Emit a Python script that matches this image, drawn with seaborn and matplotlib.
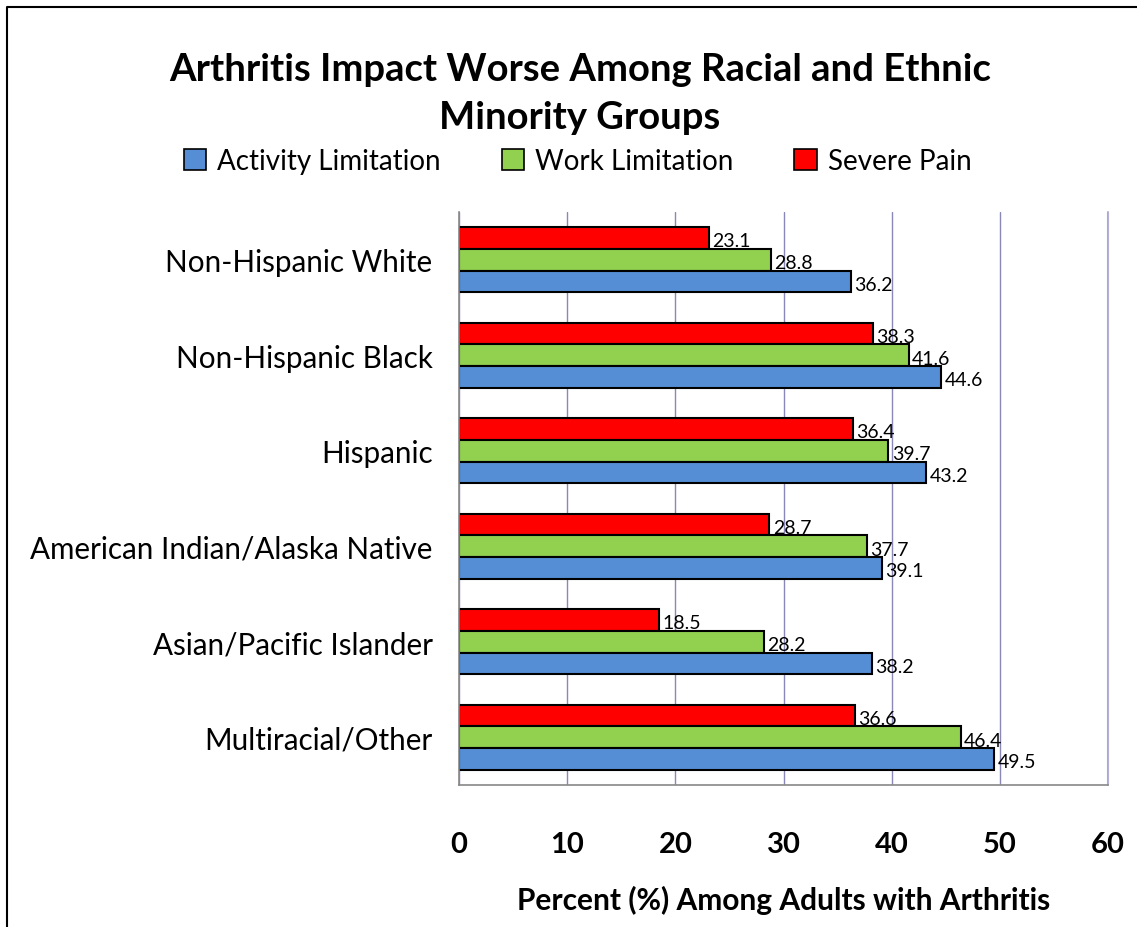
import pandas as pd
import seaborn as sns
import matplotlib.pyplot as plt
from matplotlib.patches import Patch
from matplotlib.lines import Line2D
import numpy as np

# Chart data
groups = ['Non-Hispanic White', 'Non-Hispanic Black', 'Hispanic',
          'American Indian/Alaska Native', 'Asian/Pacific Islander', 'Multiracial/Other']
activity = [36.2, 44.6, 43.2, 39.1, 38.2, 49.5]
work = [28.8, 41.6, 39.7, 37.7, 28.2, 46.4]
pain = [23.1, 38.3, 36.4, 28.7, 18.5, 36.6]
series = ['Activity Limitation', 'Work Limitation', 'Severe Pain']
colors = {'Activity Limitation': '#558ED5', 'Work Limitation': '#92D050', 'Severe Pain': '#FF0000'}

df = pd.DataFrame({
    'group': groups * 3,
    'series': [series[0]] * 6 + [series[1]] * 6 + [series[2]] * 6,
    'value': activity + work + pain,
})

sns.set_style('white', rc={'text.color': 'black', 'axes.labelcolor': 'black',
                           'xtick.color': 'black', 'ytick.color': 'black'})
plt.rcParams['font.family'] = ['Lato', 'DejaVu Sans']

fig = plt.figure(figsize=(11.37, 9.28), dpi=100)
ax = fig.add_axes([459 / 1137, 1 - 786 / 928, (1108 - 459) / 1137, (786 - 213) / 928])

draw_order = ['Severe Pain', 'Work Limitation', 'Activity Limitation']
sns.barplot(data=df, y='group', x='value', hue='series', hue_order=draw_order,
            order=groups, palette=colors, orient='h', width=0.68,
            edgecolor='black', linewidth=1.5, saturation=1, legend=False, ax=ax)

# value labels
for cont in ax.containers:
    for bar in cont:
        w = bar.get_width()
        ax.text(w + 0.3, bar.get_y() + bar.get_height() / 2 + 0.03, f'{w:.1f}',
                ha='left', va='center', fontsize=14, color='black')

ax.set_xlim(0, 60)
ax.set_ylim(len(groups) - 0.5, -0.5)
ax.set_xticks(np.arange(0, 61, 10))
ax.set_xticklabels([str(v) for v in range(0, 61, 10)], fontsize=21, fontweight='bold')
ax.tick_params(axis='x', direction='out', length=9, width=1, color='#888888',
               labelcolor='black', pad=24)
ax.set_yticks(range(len(groups)))
ax.set_yticklabels(groups, fontsize=21.3)
ax.tick_params(axis='y', which='major', length=0, pad=19, labelcolor='black')
ax.set_yticks(np.arange(-0.5, len(groups), 1), minor=True)
ax.tick_params(axis='y', which='minor', direction='out', length=9, width=1, color='#888888')

ax.grid(axis='x', color='#8A88B8', linewidth=1)
ax.axvline(60, color='#B4B2D4', linewidth=1.5, clip_on=False, zorder=0)
ax.set_axisbelow(True)
for s in ['top', 'right']:
    ax.spines[s].set_visible(False)
for s in ['left', 'bottom']:
    ax.spines[s].set_color('#888888')
    ax.spines[s].set_linewidth(1.2)

ax.set_ylabel('')
ax.set_xlabel('Percent (%) Among Adults with Arthritis', fontsize=21.5, fontweight='bold', labelpad=20)

fig.text(0.51, 1 - 94 / 928, 'Arthritis Impact Worse Among Racial and Ethnic\nMinority Groups',
         ha='center', va='center', fontsize=27.5, fontweight='bold', linespacing=1.5)

handles = [Patch(facecolor=colors[s], edgecolor='black', linewidth=1.2) for s in series]
fig.legend(handles, series, loc='center', bbox_to_anchor=(0.508, 1 - 162 / 928), ncol=3,
           frameon=False, fontsize=20, handlelength=0.8, handleheight=0.8,
           columnspacing=2.2, handletextpad=0.4)

# outer frame (left and top edges)
fig.add_artist(Line2D([7 / 1137, 7 / 1137, 1.0], [0, 1 - 8 / 928, 1 - 8 / 928],
                      transform=fig.transFigure, color='black', linewidth=1.5))

fig.savefig('out.png', dpi=100)
